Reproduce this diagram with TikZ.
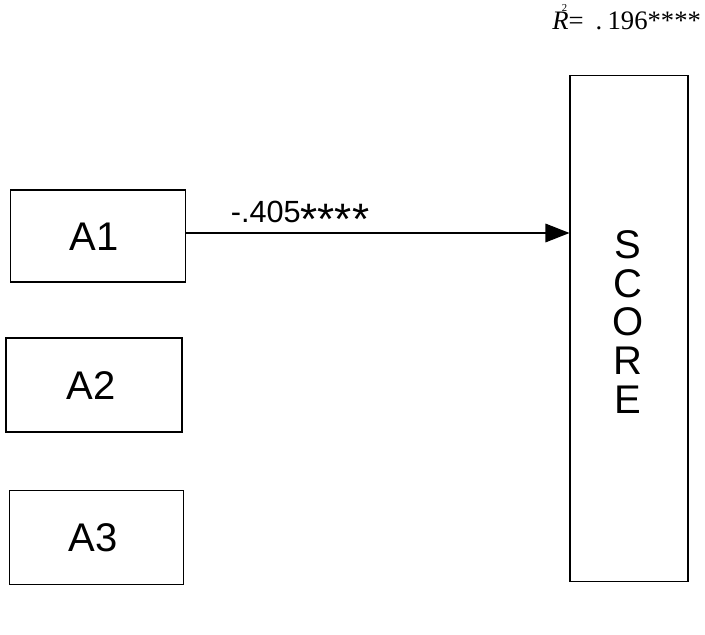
\documentclass[tikz,border=0pt]{standalone}
\usepackage{fontspec}
\setmainfont{Liberation Serif}
\setsansfont{Liberation Sans}
\usetikzlibrary{arrows.meta}
\newcommand{\bigstars}{\raisebox{-8.5pt}{\fontsize{33}{33}\selectfont ****}}
\begin{document}
\begin{tikzpicture}[x=0.75pt,y=-0.75pt,
  box/.style={draw,line width=0.8pt,inner sep=0pt},
  lbl/.style={font=\sffamily\fontsize{30}{30}\selectfont},
  conn/.style={line width=0.8pt,-{Triangle[length=18pt,width=14pt]}}]
\useasboundingbox (0,0) rectangle (705,634);
\node[box,minimum width=131pt,minimum height=69pt] (a1) at (98,236) {};
\node[lbl] (t1) at (94,237) {A1};
\node[box,minimum width=132pt,minimum height=70.5pt] (a2) at (94,385) {};
\node[lbl] (t2) at (91,386) {A2};
\node[box,minimum width=131pt,minimum height=70pt] (a3) at (96.5,537.5) {};
\node[lbl] (t3) at (93,538) {A3};
\node[box,minimum width=88.5pt,minimum height=380pt] (sc) at (629,328.5) {};
\node[lbl,align=center] (ts) at (628,322)
  {S\\[-1pt]C\\[-1pt]O\\[-1pt]R\\[-1pt]E};
\coordinate (ae) at (a1.east |- 0,233);
\coordinate (se) at (sc.west |- 0,233);
\draw[conn] (ae) -- (se);
\node[font=\sffamily\fontsize{23}{23}\selectfont,anchor=base] (lab) at (300,223) {-.405\bigstars};
\node[font=\fontsize{20}{20}\selectfont,anchor=base west,inner sep=0pt] (r2) at (552,30)
  {\textit{R}\llap{\raisebox{14pt}{\fontsize{8}{8}\selectfont 2\hspace{1pt}}}=\hspace{9pt}.\hspace{4pt}196****};
\end{tikzpicture}
\end{document}
